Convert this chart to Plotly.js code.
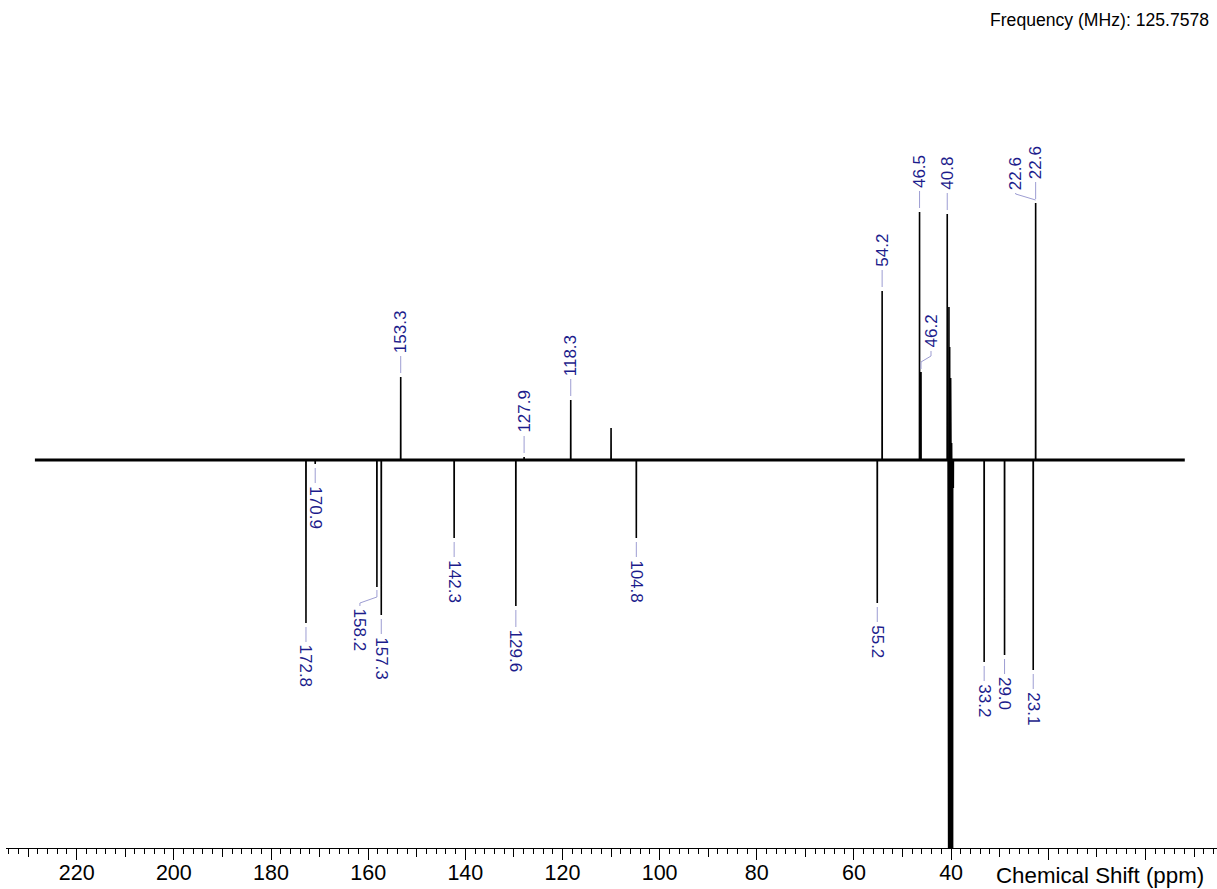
<!DOCTYPE html>
<html><head><meta charset="utf-8">
<script src="https://cdn.plot.ly/plotly-3.0.1.min.js"></script>
<style>html,body{margin:0;padding:0;background:#fff}#chart{width:1217px;height:889px}</style>
</head><body><div id="chart"></div>
<script>
// ---------- data (ppm, relative intensity) ----------
const peakPpm = [172.8, 170.9, 158.2, 157.3, 153.3, 142.3, 129.6, 127.9, 118.3, 110.0, 104.8,
                 55.2, 54.2, 46.5, 46.2, 40.8, 33.2, 29.0, 23.1, 22.6];
const peakInt = [-163, -4, -127, -155, 83, -78, -146, 3, 60, 32, -78,
                 -143, 169, 248, 88, 246, -202, -195, -210, 257];
// solvent (DMSO-d6) multiplet, unlabelled
const solventPpm = [40.6, 40.5, 40.45, 40.4, 40.3, 40.2, 40.1, 40.0, 39.9, 39.8, 39.7, 39.55];
const solventInt = [-190, -420, 153, -420, 113, -420, 82, -420, 17, -420, -420, -28];
// baseline extent
const baselinePpm = [228.6, -8.1];
const baselineInt = [0, 0];
// peak labels (two labels on the 22.6 line)
const labelPpm = [172.8, 170.9, 158.2, 157.3, 153.3, 142.3, 129.6, 127.9, 118.3, 104.8,
                  55.2, 54.2, 46.5, 46.2, 40.8, 33.2, 29.0, 23.1, 22.6, 22.6];
// axis ticks
const labelTickVals = [0, 20, 40, 60, 80, 100, 120, 140, 160, 180, 200, 220];
const labelTickText = ['', '', '40', '60', '80', '100', '120', '140', '160', '180', '200', '220'];
const mediumTickVals = [-10, 0, 10, 20, 30, 40, 50, 60, 70, 80, 90, 100, 110, 120, 130, 140, 150, 160, 170, 180, 190, 200, 210, 220, 230];
const headerText = 'Frequency (MHz): 125.7578';
const axisTitle = 'Chemical Shift (ppm)';

// ---------- label layout (pixel offsets, not data) ----------
const labelDx   = [0, 0, -17, 0, 0, 0, 0, 0, 0, 0, 0, 0, 0, 10, 0, 0, 0, 0, -20, 0];
const labelLift = [21, 21, 21, 21, 23, 21, 23, 23, 23, 21, 21, 23, 23, 23, 23, 21, 21, 21, 12, 23];

const FONT = 'Arial, "Liberation Sans", sans-serif';
const LABEL_COLOR = '#1c1c8c';
const CONN_COLOR = '#9d9dd2';

function sticks(ppm, inten) {
  const all = ppm.map((p, i) => [p, inten[i]]).sort((a, b) => b[0] - a[0]);
  const sx = [], sy = [], eps = 0.02;
  all.forEach(([p, h]) => { sx.push(p + eps, p, p - eps); sy.push(0, h, 0); });
  return { sx, sy };
}
const main = sticks(peakPpm, peakInt);
const solv = sticks(solventPpm, solventInt);

const traces = [
  { x: baselinePpm, y: baselineInt, type: 'scatter', mode: 'lines', xaxis: 'x2', yaxis: 'y',
    line: { color: '#000', width: 3 }, hoverinfo: 'skip', showlegend: false },
  { x: main.sx, y: main.sy, type: 'scatter', mode: 'lines', xaxis: 'x', yaxis: 'y',
    line: { color: '#000', width: 1.6 }, hoverinfo: 'skip', showlegend: false },
  { x: solv.sx, y: solv.sy, type: 'scatter', mode: 'lines', xaxis: 'x3', yaxis: 'y',
    line: { color: '#000', width: 1.6 }, hoverinfo: 'skip', showlegend: false }
];

const annotations = [];
const shapes = [];
function seg(p, h, x0, y0, x1, y1) {
  shapes.push({ type: 'line', xref: 'x', yref: 'y', xsizemode: 'pixel', ysizemode: 'pixel',
    xanchor: p, yanchor: h, x0: x0, x1: x1, y0: y0, y1: y1,
    line: { color: CONN_COLOR, width: 1 } });
}
labelPpm.forEach((p, i) => {
  const k = peakPpm.indexOf(p);
  const h = peakInt[k];
  const s = h >= 0 ? 1 : -1;
  const dx = labelDx[i], lift = labelLift[i];
  if (dx === 0) {
    seg(p, h, 0, s * 4, 0, s * (lift - 2));
  } else {
    const k1 = Math.min(10, lift - 9), k2 = k1 + 6, end = lift - 2;
    seg(p, h, 0, s * 3, 0, s * k1);
    seg(p, h, 0, s * k1, dx, s * k2);
    seg(p, h, dx, s * k2, dx, s * end);
  }
  annotations.push({
    x: p, y: h, xref: 'x', yref: 'y', text: p.toFixed(1), showarrow: false,
    textangle: s > 0 ? -90 : 90, xanchor: 'center', yanchor: s > 0 ? 'bottom' : 'top',
    xshift: dx, yshift: s * lift, borderpad: 0,
    font: { family: FONT, size: 17, color: LABEL_COLOR }
  });
});

// header + axis title
const L = 6, T = 100, W = 1217, H = 889, B = 41;
const pw = W - L, ph = H - T - B;
annotations.push({ xref: 'paper', yref: 'paper', x: (1211 - L) / pw, y: (H - B - 20) / ph,
  xanchor: 'right', yanchor: 'middle', showarrow: false, text: headerText,
  font: { family: FONT, size: 17.6, color: '#000' } });
annotations.push({ xref: 'paper', yref: 'paper', x: (1206 - L) / pw, y: (H - B - 875) / ph,
  xanchor: 'right', yanchor: 'middle', showarrow: false, text: axisTitle,
  font: { family: FONT, size: 22.3, color: '#000' } });

const xr = [234.55, -14.73];
const layout = {
  width: W, height: H,
  margin: { l: L, r: 0, t: T, b: B, pad: 0 },
  paper_bgcolor: '#fff', plot_bgcolor: '#fff',
  showlegend: false,
  font: { family: FONT, color: '#000' },
  xaxis: {
    range: xr, autorange: false, showgrid: false, zeroline: false,
    showline: true, linecolor: '#000', linewidth: 1,
    tickmode: 'array', tickvals: labelTickVals, ticktext: labelTickText,
    ticks: 'outside', ticklen: 5, tickwidth: 1, tickcolor: '#000',
    tickfont: { family: FONT, size: 21.5, color: '#000' },
    minor: { tickmode: 'linear', tick0: 0, dtick: 2, ticks: 'outside', ticklen: 5, tickwidth: 1, tickcolor: '#000', showgrid: false }
  },
  xaxis2: {
    range: xr, autorange: false, overlaying: 'x', anchor: 'y', side: 'bottom',
    showgrid: false, zeroline: false, showline: false,
    tickmode: 'array', tickvals: mediumTickVals, ticks: 'outside', ticklen: 8, tickwidth: 1,
    tickcolor: '#000', showticklabels: false
  },
  xaxis3: {
    range: xr, autorange: false, overlaying: 'x', anchor: 'y', side: 'bottom',
    showgrid: false, zeroline: false, showline: false,
    tickmode: 'array', tickvals: labelTickVals, ticks: 'outside', ticklen: 11, tickwidth: 1,
    tickcolor: '#000', showticklabels: false
  },
  yaxis: { range: [-388, 360], autorange: false, visible: false, showgrid: false, zeroline: false },
  annotations: annotations,
  shapes: shapes
};
Plotly.newPlot('chart', traces, layout, { staticPlot: true, displayModeBar: false });
</script>
</body></html>
